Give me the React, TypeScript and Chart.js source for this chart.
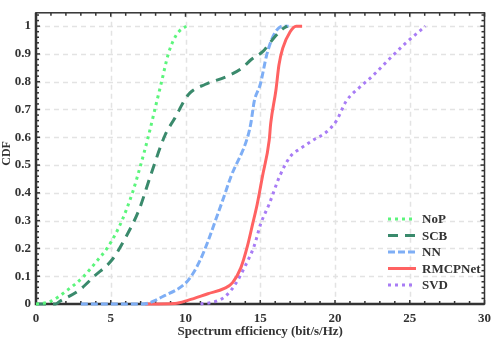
import React, { useEffect, useRef } from "react";
import { Chart, registerables } from "chart.js";

Chart.register(...registerables);

const seriesNames = ["NoP", "SCB", "NN", "RMCPNet", "SVD"];

const nopX = [0, 0.5, 1.0, 2.1, 3.2, 4.0, 4.75, 5.3, 5.75, 6.45, 7.0, 7.5, 7.95, 8.4, 8.85, 9.2, 9.55, 10.05];
const nopY = [0, 0.003, 0.01, 0.05, 0.1, 0.15, 0.2, 0.25, 0.3, 0.4, 0.5, 0.6, 0.7, 0.8, 0.9, 0.95, 0.98, 1.0];

const scbX = [0, 1.3, 1.6, 2.9, 3.9, 5.1, 6.0, 6.9, 7.65, 8.65, 9.3, 9.9, 10.3, 11.3, 12.8, 13.8, 14.4, 15.2, 15.5, 15.95, 16.5, 16.8];
const scbY = [0, 0, 0.01, 0.05, 0.1, 0.16, 0.24, 0.34, 0.46, 0.61, 0.67, 0.73, 0.76, 0.79, 0.82, 0.85, 0.88, 0.91, 0.93, 0.96, 0.99, 1.0];

const nnX = [3.0, 7.1, 8.6, 10.0, 10.5, 11.0, 11.5, 12.0, 12.5, 13.05, 14.15, 14.37, 14.6, 15.0, 15.45, 15.92, 16.5, 16.9];
const nnY = [0, 0, 0.03, 0.075, 0.11, 0.16, 0.225, 0.3, 0.375, 0.46, 0.6, 0.65, 0.73, 0.79, 0.9, 0.97, 1.0, 1.0];

const rmcpX = [7.3, 9.3, 10.2, 11.5, 12.6, 13.15, 13.7, 14.15, 14.5, 14.8, 15.15, 15.6, 15.7, 16.05, 16.25, 16.5, 17.0, 17.4, 17.8];
const rmcpY = [0, 0.002, 0.014, 0.037, 0.056, 0.077, 0.13, 0.21, 0.29, 0.36, 0.46, 0.59, 0.65, 0.77, 0.86, 0.92, 0.98, 1.0, 1.0];

const svdX = [11.0, 11.95, 12.6, 13.27, 13.93, 14.6, 15.04, 15.6, 16.3, 17.0, 17.7, 18.55, 19.45, 20.1, 20.75, 21.65, 22.5, 23.6, 24.75, 26.05];
const svdY = [0, 0.008, 0.025, 0.066, 0.13, 0.21, 0.29, 0.36, 0.46, 0.53, 0.56, 0.59, 0.62, 0.66, 0.73, 0.78, 0.82, 0.88, 0.94, 1.0];

const xTicks = [0, 5, 10, 15, 20, 25, 30];
const yTicks = [0, 0.1, 0.2, 0.3, 0.4, 0.5, 0.6, 0.7, 0.8, 0.9, 1];

const colors = ["#5cf57c", "#3a8a6c", "#7eaef5", "#ff6262", "#a87cf5"];
const dashes = [[3, 4], [10, 7], [7, 3], [], [3, 4]];

const FONT = "'Liberation Serif', serif";
const TXT = "#333333";

function pts(xs: number[], ys: number[]) {
  return xs.map((x, i) => ({ x, y: ys[i] }));
}

const framePlugin = {
  id: "frameGrid",
  beforeDatasetsDraw(chart: any) {
    const { ctx, chartArea: a, scales } = chart;
    const xs = scales.x, ys = scales.y;
    ctx.save();
    ctx.strokeStyle = "#e3e3e3";
    ctx.lineWidth = 1.5;
    ctx.setLineDash([5, 4]);
    xTicks.forEach((v) => {
      if (v === 0 || v === 30) return;
      const px = Math.round(xs.getPixelForValue(v)) + 0.5;
      ctx.beginPath(); ctx.moveTo(px, a.top); ctx.lineTo(px, a.bottom); ctx.stroke();
    });
    yTicks.forEach((v) => {
      if (v === 0) return;
      const py = Math.round(ys.getPixelForValue(v)) + 0.5;
      ctx.beginPath(); ctx.moveTo(a.left, py); ctx.lineTo(a.right, py); ctx.stroke();
    });
    ctx.setLineDash([]);
    ctx.strokeStyle = TXT;
    ctx.lineWidth = 1.5;
    for (let v = 0; v <= 30; v++) {
      const px = xs.getPixelForValue(v);
      const len = v % 5 === 0 ? 4 : 3;
      ctx.beginPath(); ctx.moveTo(px, a.bottom); ctx.lineTo(px, a.bottom - len); ctx.stroke();
      ctx.beginPath(); ctx.moveTo(px, a.top); ctx.lineTo(px, a.top + len); ctx.stroke();
    }
    for (let i = 0; i <= 52; i++) {
      const v = i * 0.02;
      const py = ys.getPixelForValue(v);
      const len = i % 5 === 0 ? 4 : 3;
      ctx.beginPath(); ctx.moveTo(a.left, py); ctx.lineTo(a.left + len, py); ctx.stroke();
      ctx.beginPath(); ctx.moveTo(a.right, py); ctx.lineTo(a.right - len, py); ctx.stroke();
    }
    ctx.lineWidth = 1.5;
    ctx.strokeRect(a.left, a.top, a.right - a.left, a.bottom - a.top);
    ctx.lineWidth = 2.5;
    ctx.beginPath(); ctx.moveTo(a.left, a.top); ctx.lineTo(a.left, a.bottom); ctx.lineTo(a.right, a.bottom); ctx.stroke();
    ctx.restore();
  },
  afterDraw(chart: any) {
    const { ctx, chartArea: a } = chart;
    ctx.save();
    ctx.fillStyle = TXT;
    ctx.font = `bold 13px ${FONT}`;
    ctx.textAlign = "center";
    ctx.textBaseline = "alphabetic";
    ctx.fillText("Spectrum efficiency (bit/s/Hz)", (a.left + a.right) / 2, 335);
    ctx.save();
    ctx.translate(10, (a.top + a.bottom) / 2 - 5);
    ctx.rotate(-Math.PI / 2);
    ctx.font = `bold 12px ${FONT}`;
    ctx.textBaseline = "alphabetic";
    ctx.fillText("CDF", 0, 0);
    ctx.restore();
    const rowY = [219, 235.5, 252, 268.5, 285];
    ctx.font = `bold 13px ${FONT}`;
    ctx.textAlign = "left";
    ctx.textBaseline = "middle";
    seriesNames.forEach((name, i) => {
      const y = rowY[i];
      ctx.strokeStyle = colors[i];
      ctx.lineWidth = 3;
      ctx.setLineDash(dashes[i]);
      ctx.beginPath(); ctx.moveTo(388, y); ctx.lineTo(416, y); ctx.stroke();
      ctx.setLineDash([]);
      ctx.fillStyle = TXT;
      ctx.fillText(name, 422, y + 1);
    });
    ctx.restore();
  },
};

export default function App() {
  const ref = useRef<HTMLCanvasElement>(null);
  useEffect(() => {
    document.body.style.margin = "0";
    const all = [pts(nopX, nopY), pts(scbX, scbY), pts(nnX, nnY), pts(rmcpX, rmcpY), pts(svdX, svdY)];
    const chart = new Chart(ref.current!, {
      type: "scatter",
      data: {
        datasets: all.map((d, i) => ({
          label: seriesNames[i],
          data: d,
          showLine: true,
          borderColor: colors[i],
          backgroundColor: colors[i],
          borderWidth: 3,
          borderDash: dashes[i],
          pointRadius: 0,
          cubicInterpolationMode: "monotone",
          clip: 4,
        })),
      },
      options: {
        animation: false,
        responsive: false,
        devicePixelRatio: 1,
        layout: { padding: { top: 1, right: 8, left: 0, bottom: 0 } },
        plugins: { legend: { display: false }, tooltip: { enabled: false } },
        scales: {
          x: {
            type: "linear",
            min: 0,
            max: 30,
            grid: { display: false, drawTicks: false },
            border: { display: false },
            afterFit: (s: any) => { s.height = 36; },
            afterBuildTicks: (s: any) => { s.ticks = xTicks.map((v) => ({ value: v })); },
            ticks: { color: TXT, padding: 7, font: { family: FONT, size: 13, weight: "bold" }, maxRotation: 0 },
          },
          y: {
            type: "linear",
            min: 0,
            max: 1.048,
            grid: { display: false, drawTicks: false },
            border: { display: false },
            afterFit: (s: any) => { s.width = 36; },
            afterBuildTicks: (s: any) => { s.ticks = yTicks.map((v) => ({ value: v })); },
            ticks: {
              color: TXT,
              padding: 5,
              font: { family: FONT, size: 13, weight: "bold" },
              callback: (v: any) => (v === 0 ? "0" : v === 1 ? "1" : Number(v).toFixed(1)),
            },
          },
        },
      },
      plugins: [framePlugin],
    } as any);
    return () => chart.destroy();
  }, []);
  return (
    <div style={{ width: 498, height: 340 }}>
      <canvas ref={ref} width={498} height={340} style={{ display: "block" }} />
    </div>
  );
}
